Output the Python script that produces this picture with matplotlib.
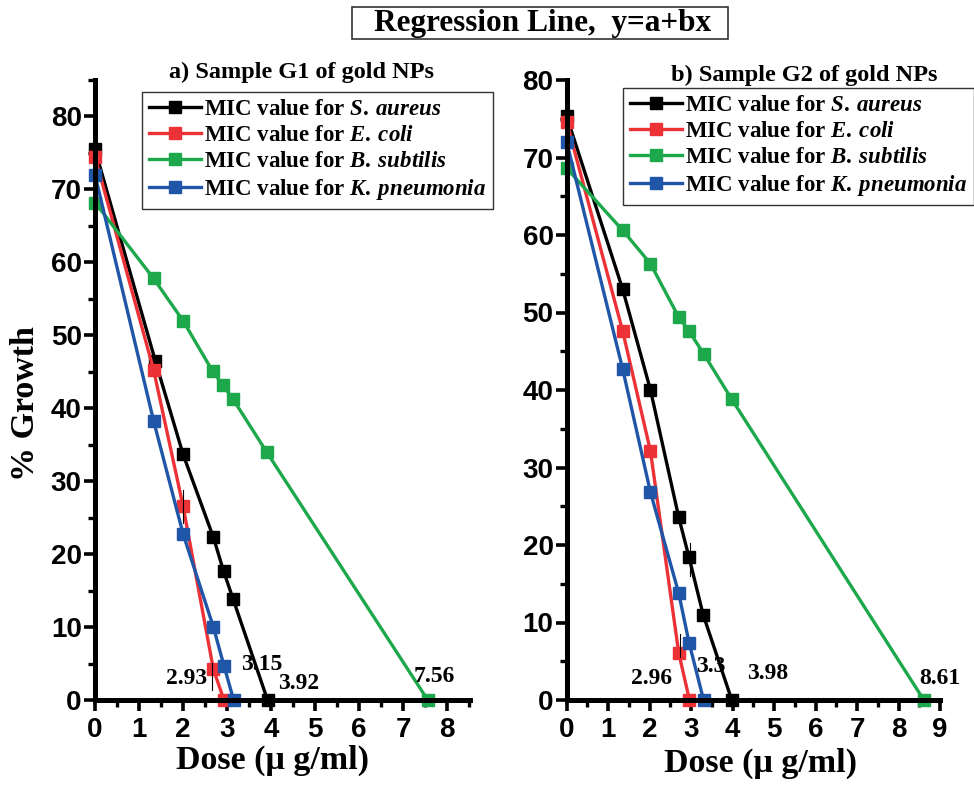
import matplotlib
matplotlib.use("Agg")
import matplotlib.pyplot as plt
from matplotlib.patches import Rectangle
from matplotlib.ticker import MultipleLocator

plt.rcParams['mathtext.fontset'] = 'custom'
plt.rcParams['mathtext.it'] = 'Liberation Serif:italic:bold'
plt.rcParams['mathtext.rm'] = 'Liberation Serif:bold'
plt.rcParams['mathtext.bf'] = 'Liberation Serif:bold'

# ---------------- data ----------------
species = ["S. aureus", "E. coli", "B. subtilis", "K. pneumonia"]
colors = ["#000000", "#ED3237", "#1DA84B", "#1F56A8"]

# Panel a) Sample G1
g1_aureus_x = [0, 1.37, 2.0, 2.69, 2.92, 3.14, 3.92]
g1_aureus_y = [75.5, 46.5, 33.7, 22.3, 17.7, 13.8, 0]
g1_coli_x = [0, 1.33, 2.0, 2.69, 2.93]
g1_coli_y = [74.5, 45.3, 26.6, 4.2, 0]
g1_subtilis_x = [0, 1.33, 2.0, 2.67, 2.90, 3.13, 3.90, 7.56]
g1_subtilis_y = [68.2, 57.8, 52.0, 45.1, 43.2, 41.3, 34.0, 0]
g1_pneumonia_x = [0, 1.33, 2.0, 2.69, 2.93, 3.15]
g1_pneumonia_y = [72.0, 38.3, 22.8, 10.0, 4.7, 0]
g1_mic_labels = ["2.93", "3.15", "3.92", "7.56"]
g1_mic_label_x = [2.07, 3.79, 4.63, 7.7]
g1_mic_label_y = [3.0, 4.8, 2.3, 3.2]

# Panel b) Sample G2
g2_aureus_x = [0, 1.35, 2.02, 2.70, 2.95, 3.29, 3.98]
g2_aureus_y = [75.3, 53.0, 40.0, 23.6, 18.4, 11.0, 0]
g2_coli_x = [0, 1.35, 2.02, 2.70, 2.96]
g2_coli_y = [74.6, 47.6, 32.1, 6.1, 0]
g2_subtilis_x = [0, 1.35, 2.02, 2.70, 2.95, 3.31, 3.98, 8.61]
g2_subtilis_y = [68.6, 60.6, 56.3, 49.4, 47.6, 44.6, 38.8, 0]
g2_pneumonia_x = [0, 1.35, 2.02, 2.70, 2.95, 3.30]
g2_pneumonia_y = [72.0, 42.7, 26.8, 13.8, 7.4, 0]
g2_mic_labels = ["2.96", "3.3", "3.98", "8.61"]
g2_mic_label_x = [2.05, 3.47, 4.84, 9.0]
g2_mic_label_y = [2.8, 4.3, 3.4, 2.8]

# small vertical cursor marks seen in the picture
g1_cursor_x = [2.66, 2.0]
g1_cursor_y0 = [1.4, 24.3]
g1_cursor_y1 = [5.1, 28.8]
g2_cursor_x = [2.73, 2.97]
g2_cursor_y0 = [5.5, 16.0]
g2_cursor_y1 = [8.5, 20.3]

W, H = 974, 785
fig = plt.figure(figsize=(W / 100, H / 100), dpi=100)

serif = "Liberation Serif"
sans = "Liberation Sans"


def px(x0, y0, x1, y1):
    return [x0 / W, 1 - y1 / H, (x1 - x0) / W, (y1 - y0) / H]


def style_axes(ax, xmax, ymax):
    ax.set_xlim(0, xmax)
    ax.set_ylim(0, ymax)
    for s in ["top", "right"]:
        ax.spines[s].set_visible(False)
    for s in ["left", "bottom"]:
        ax.spines[s].set_linewidth(3.6)
        ax.spines[s].set_zorder(5)
    ax.xaxis.set_major_locator(MultipleLocator(1))
    ax.xaxis.set_minor_locator(MultipleLocator(0.5))
    ax.yaxis.set_major_locator(MultipleLocator(10))
    ax.yaxis.set_minor_locator(MultipleLocator(5))
    ax.tick_params(which="major", length=8, width=2.6, direction="out")
    ax.tick_params(axis="y", which="major", pad=1.5)
    ax.tick_params(axis="x", which="major", pad=4)
    ax.tick_params(which="minor", length=5, width=2.4, direction="out")
    for lab in ax.get_xticklabels() + ax.get_yticklabels():
        lab.set_fontfamily(sans)
        lab.set_fontweight("bold")
        lab.set_fontsize(20)


def draw_panel(ax, series, labels, lx, ly, cx, cy0, cy1):
    handles = []
    for (x, y), c, sp in zip(series, colors, species):
        genus, name = sp.split(" ")
        lab = r"MIC value for $\mathit{" + genus + r"\:" + name + "}$"
        h, = ax.plot(x, y, color=c, lw=2.4, marker="s", markersize=8.5,
                     markerfacecolor=c, markeredgecolor=c, clip_on=False, zorder=3,
                     label=lab)
        handles.append(h)
    for t, x, y in zip(labels, lx, ly):
        ax.text(x, y, t, fontfamily=serif, fontweight="bold", fontsize=17,
                ha="center", va="center", zorder=6, clip_on=False)
    for x, y0, y1 in zip(cx, cy0, cy1):
        ax.plot([x, x], [y0, y1], color="black", lw=0.8, zorder=4)
    return handles


# Panel a
ax1 = fig.add_axes(px(95, 80, 470, 700))
h1 = draw_panel(ax1,
                [(g1_aureus_x, g1_aureus_y), (g1_coli_x, g1_coli_y),
                 (g1_subtilis_x, g1_subtilis_y), (g1_pneumonia_x, g1_pneumonia_y)],
                g1_mic_labels, g1_mic_label_x, g1_mic_label_y,
                g1_cursor_x, g1_cursor_y0, g1_cursor_y1)
style_axes(ax1, 8.52, 85)

# Panel b
ax2 = fig.add_axes(px(566.7, 80, 940, 700))
h2 = draw_panel(ax2,
                [(g2_aureus_x, g2_aureus_y), (g2_coli_x, g2_coli_y),
                 (g2_subtilis_x, g2_subtilis_y), (g2_pneumonia_x, g2_pneumonia_y)],
                g2_mic_labels, g2_mic_label_x, g2_mic_label_y,
                g2_cursor_x, g2_cursor_y0, g2_cursor_y1)
style_axes(ax2, 9.0, 80)

# Legends
for handles, (lx, ly) in zip([h1, h2], [(141.7, 92.3), (622.7, 88.3)]):
    leg = fig.legend(handles=handles, loc="upper left",
                     bbox_to_anchor=(lx / W, 1 - ly / H),
                     prop={"family": serif, "weight": "bold", "size": 16.5},
                     frameon=True, fancybox=False, edgecolor="#333333",
                     framealpha=1, borderaxespad=0, handlelength=2.3,
                     handletextpad=0.1, labelspacing=0.22, borderpad=0.3)
    leg.get_frame().set_linewidth(1.0)

# Subplot titles
fig.text(301.7 / W, 1 - 72 / H, "a) Sample G1 of gold NPs", fontfamily=serif,
         fontweight="bold", fontsize=17.5, ha="center", va="center")
fig.text(804 / W, 1 - 75 / H, "b) Sample G2 of gold NPs", fontfamily=serif,
         fontweight="bold", fontsize=17.5, ha="center", va="center")

# Axis labels
fig.text(273 / W, 1 - 760 / H, "Dose (\u03bc g/ml)", fontfamily=serif,
         fontweight="bold", fontsize=24.5, ha="center", va="center")
fig.text(760 / W, 1 - 763 / H, "Dose (\u03bc g/ml)", fontfamily=serif,
         fontweight="bold", fontsize=24.5, ha="center", va="center")
fig.text(26 / W, 1 - 404 / H, "% Growth", fontfamily=serif,
         fontweight="bold", fontsize=24.5, ha="center", va="center", rotation=90)

# Main title in a box
fig.patches.append(Rectangle((352 / W, 1 - 39 / H), (728 - 352) / W, 32 / H,
                             transform=fig.transFigure, facecolor="white",
                             edgecolor="#333333", linewidth=1.2))
fig.text(543 / W, 1 - 24 / H, "Regression Line,  y=a+bx", fontfamily=serif,
         fontweight="bold", fontsize=22.5, ha="center", va="center")

fig.savefig("out.png", dpi=100)
